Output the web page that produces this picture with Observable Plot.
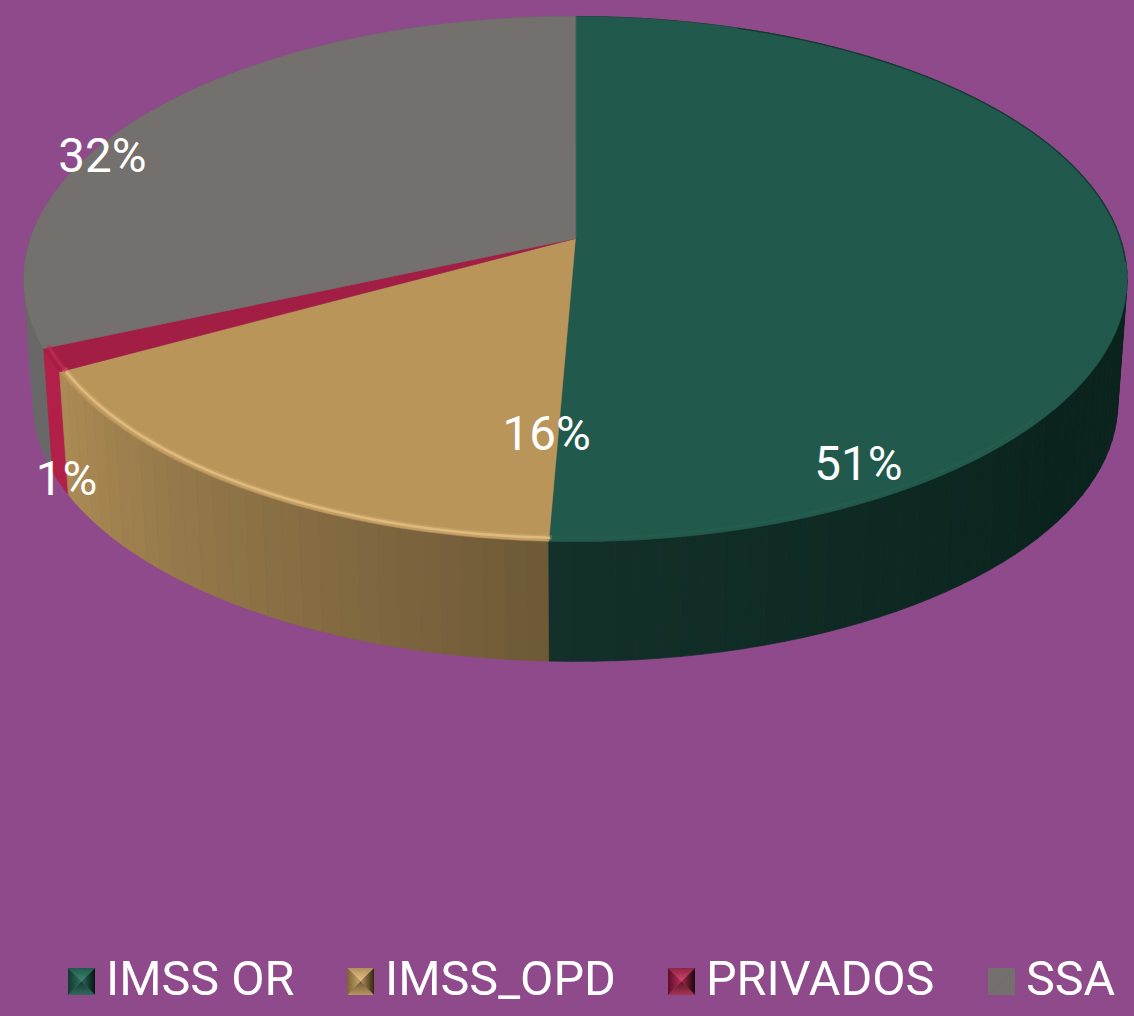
<!DOCTYPE html>
<html><head><meta charset="utf-8">
<script src="https://cdn.jsdelivr.net/npm/d3@7"></script>
<script src="https://cdn.jsdelivr.net/npm/@observablehq/plot@0.6"></script>
<style>
html,body{margin:0;padding:0;background:#8e4a8a;width:1134px;height:1016px;overflow:hidden}
#chart{position:absolute;left:0;top:0}
#legend{position:absolute;left:0;top:950px;width:1134px;height:66px;color:#fff;font:48.5px Roboto,sans-serif}
#legend .t{position:absolute;top:1px;line-height:56px;white-space:nowrap}
#legend .s{position:absolute;top:18px;width:27px;height:27px}
#legend .s i{position:absolute;inset:0;display:block}
</style></head><body>
<div id="chart"></div><div id="legend"></div>
<script>
// Data
const names = ["IMSS OR", "IMSS_OPD", "PRIVADOS", "SSA"];
const shares = [50.66, 16.34, 1.4, 31.6];
const shownLabels = ["51%", "16%", "1%", "32%"];
// Styles
const topColors = ["#215a4c", "#ba955a", "#a21e45", "#74706d"];
const wallFrom = ["#0a241d", "#6f5a37", "#b21f48", "#686868"];
const wallTo = ["#13302a", "#ad8c55", "#b21f48", "#686868"];
const fadeStart = [125, 183, 0, 0];
const rimColors = ["#2a6353", "#e0bc80", "#c32a55", "#74706d"];
const rimOpacity = [0.35, 0.95, 0.8, 0];
const labelX = [0.519, -0.053, -0.934, -0.868];
const labelY = [0.882, 0.764, 0.941, -0.32];
const legendSwatchX = [68, 347, 668, 988];
const legendTextX = [106, 385, 706, 1026];
// top, right, bottom, left: [edge colour, centre colour]
const swatchFaces = [
  [["#1f5a4b", "#3c8a74"], ["#061512", "#2a6a5a"], ["#2e6b5b", "#15392f"], ["#113a30", "#2c6d5c"]],
  [["#b08f5a", "#e8c585"], ["#33280f", "#b8955a"], ["#b8965e", "#6f5a36"], ["#7a6238", "#c9a468"]],
  [["#8c2545", "#d9456f"], ["#1a060c", "#a52848"], ["#a83352", "#5c1528"], ["#5c1028", "#b82c55"]],
  [["#74706d", "#74706d"], ["#74706d", "#74706d"], ["#74706d", "#74706d"], ["#74706d", "#74706d"]]
];

// Tilted-disc model: a circle seen with mild perspective
const persp = 0.1543, depth = 125 / 256.3, shrink = 0.983;
const project = (deg, r = 1, lower = false) => {
  const t = deg * Math.PI / 180;
  const px = r * Math.sin(t), py = -r * Math.cos(t);
  const w = 1 - persp * py;
  const s = lower ? shrink : 1;
  return {x: s * px / w, y: s * py / w + (lower ? depth : 0)};
};
const ends = d3.cumsum(shares).map(v => v * 3.6);
const starts = ends.map((e, i) => i ? ends[i - 1] : 0);
const degs = (a, b, step = 1) => {
  const n = Math.max(2, Math.ceil((b - a) / step));
  return d3.range(n + 1).map(i => a + (b - a) * i / n);
};

// Walls: thin vertical strips, back to front
const strips = [];
names.forEach((name, i) => {
  const col = d3.interpolateRgb(wallFrom[i], wallTo[i]);
  const a = degs(starts[i], ends[i], 2);
  for (let k = 0; k < a.length - 1; k++) {
    const m = Math.max(0, Math.min(1, (a[k] - fadeStart[i]) / (ends[i] - fadeStart[i])));
    strips.push({a0: a[k], a1: a[k + 1], color: col(m), id: name + k});
  }
});
strips.sort((p, q) => Math.cos(q.a0 * Math.PI / 180) - Math.cos(p.a0 * Math.PI / 180));
const wallPts = strips.flatMap(s => [
  {...project(s.a0), color: s.color, id: s.id},
  {...project(s.a1), color: s.color, id: s.id},
  {...project(s.a1, 1, true), color: s.color, id: s.id},
  {...project(s.a0, 1, true), color: s.color, id: s.id}
]);
// Top faces
const facePts = names.flatMap((name, i) => [
  {x: 0, y: 0, color: topColors[i], id: name},
  ...degs(starts[i], ends[i]).map(d => ({...project(d), color: topColors[i], id: name}))
]);
// Bevel rims on the front of the faces
const rimOf = (op, r) => names.flatMap((name, i) => {
  const a = Math.max(starts[i], i === 0 ? 130 : 90);
  if (ends[i] <= a || rimOpacity[i] === 0) return [];
  return degs(a, ends[i]).map(d => ({...project(d, r), color: rimColors[i], op: rimOpacity[i] * op, id: name}));
});
const darkEdge = degs(20, 95).map(d => project(d, 0.999));
const labels = names.map((n, i) => ({x: labelX[i], y: labelY[i], text: shownLabels[i]}));

const plot = Plot.plot({
  width: 1134, height: 950,
  margin: 0,
  style: {background: "transparent", overflow: "visible"},
  x: {domain: [-1, 1], range: [30, 1120], axis: null},
  y: {domain: [-1, 1], range: [-18.3, 494.3], axis: null},
  color: {type: "identity"},
  marks: [
    Plot.line(wallPts, {x: "x", y: "y", z: "id", fill: "color", stroke: "color", strokeWidth: 0.7, curve: "linear-closed"}),
    Plot.line(facePts, {x: "x", y: "y", z: "id", fill: "color", stroke: "color", strokeWidth: 0.5, curve: "linear-closed"}),
    Plot.line(rimOf(0.3, 0.99), {x: "x", y: "y", z: "id", stroke: "color", strokeWidth: 6, strokeOpacity: "op"}),
    Plot.line(rimOf(1, 0.99), {x: "x", y: "y", z: "id", stroke: "color", strokeWidth: 2.5, strokeOpacity: "op"}),
    Plot.line(darkEdge, {x: "x", y: "y", stroke: "#12352c", strokeWidth: 1.2, strokeOpacity: 0.8}),
    Plot.text(labels, {x: "x", y: "y", text: "text", fill: "#fff", fontSize: 47.5, fontFamily: "Roboto"})
  ]
});
document.getElementById("chart").append(plot);

// Legend below the plot
const legend = document.getElementById("legend");
const clips = ["0 0,100% 0,50% 50%", "100% 0,100% 100%,50% 50%", "0 100%,100% 100%,50% 50%", "0 0,0 100%,50% 50%"];
const dirs = ["to bottom", "to left", "to top", "to right"];
names.forEach((name, i) => {
  const s = document.createElement("div");
  s.className = "s";
  s.style.left = legendSwatchX[i] + "px";
  swatchFaces[i].forEach((f, k) => {
    const p = document.createElement("i");
    p.style.clipPath = `polygon(${clips[k]})`;
    p.style.background = `linear-gradient(${dirs[k]}, ${f[0]} 0%, ${f[1]} 50%)`;
    s.append(p);
  });
  const t = document.createElement("div");
  t.className = "t";
  t.style.left = legendTextX[i] + "px";
  t.textContent = name;
  legend.append(s, t);
});
</script>
</body></html>
